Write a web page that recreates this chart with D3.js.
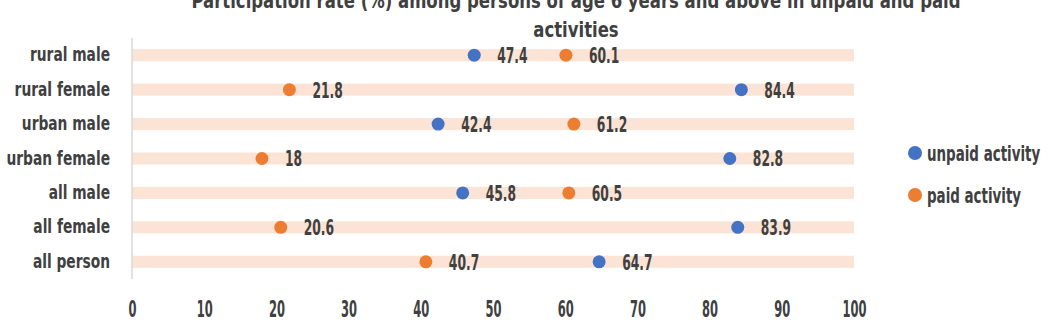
<!DOCTYPE html>
<html><head><meta charset="utf-8">
<script src="https://cdn.jsdelivr.net/npm/d3@7"></script>
<style>
body{margin:0;background:#fff;}
svg text{font-family:"DejaVu Sans",sans-serif;font-weight:bold;fill:#404040;}
</style></head>
<body><svg id="c" width="1050" height="326"></svg>
<script>
const categories = ["rural male","rural female","urban male","urban female","all male","all female","all person"];
const unpaid = [47.4, 84.4, 42.4, 82.8, 45.8, 83.9, 64.7];
const paid = [60.1, 21.8, 61.2, 18, 60.5, 20.6, 40.7];
const seriesNames = ["unpaid activity","paid activity"];
const seriesColors = ["#4472C4","#ED7D31"];
const xTicks = [0,10,20,30,40,50,60,70,80,90,100];
const titleLines = ["Participation rate (%) among persons of age 6 years and above in unpaid and paid","activities"];

// horizontally condense text (no condensed font available offline)
function squeeze(sel, sx){
  sel.each(function(){
    const t = d3.select(this);
    const x0 = +t.attr("x") || 0;
    t.attr("x", x0/sx).attr("transform", `scale(${sx},1)`);
  });
}

const svg = d3.select("#c");
const x = d3.scaleLinear().domain([0,100]).range([132,854]);
const y = d3.scaleBand().domain(categories).range([38,279]).paddingInner(0).paddingOuter(0);
const cy = c => y(c) + y.bandwidth()/2;

// title
svg.selectAll("text.title").data(titleLines).join("text")
  .attr("class","title")
  .attr("x",576).attr("y",(d,i)=>8+i*29)
  .attr("text-anchor","middle").attr("font-size",22)
  .text(d=>d)
  .call(squeeze,0.75);

// bands
svg.selectAll("rect.band").data(categories).join("rect")
  .attr("class","band")
  .attr("x",x(0)).attr("width",x(100)-x(0))
  .attr("y",d=>cy(d)-6).attr("height",12)
  .attr("fill","#FBE4D6");

// left axis line
svg.append("line").attr("x1",x(0)).attr("x2",x(0)).attr("y1",38).attr("y2",279)
  .attr("stroke","#D9D9D9").attr("stroke-width",1.5);

// category labels
const yAxis = svg.append("g").attr("transform",`translate(${x(0)},0)`)
  .call(d3.axisLeft(y).tickSize(0).tickPadding(22));
yAxis.select(".domain").remove();
yAxis.attr("font-family",null).attr("font-size",null);
yAxis.selectAll("text").attr("font-size",20).attr("fill","#404040").attr("dy","0.3em")
  .call(squeeze,0.69);

// x axis
const xAxis = svg.append("g").attr("transform","translate(0,300)")
  .call(d3.axisBottom(x).tickValues(xTicks).tickSize(0).tickPadding(0).tickFormat(d3.format("d")));
xAxis.select(".domain").remove();
xAxis.attr("font-family",null).attr("font-size",null);
xAxis.selectAll("text").attr("font-size",23).attr("fill","#404040").attr("dy","0.72em")
  .call(squeeze,0.5);

// points + value labels
const series = [unpaid, paid];
series.forEach((vals,si)=>{
  const g = svg.append("g");
  g.selectAll("circle").data(vals).join("circle")
    .attr("cx",d=>x(d)).attr("cy",(d,i)=>cy(categories[i]))
    .attr("r",6.5).attr("fill",seriesColors[si]);
  g.selectAll("text").data(vals).join("text")
    .attr("x",d=>x(d)+23).attr("y",(d,i)=>cy(categories[i]))
    .attr("dy","0.36em").attr("font-size",22)
    .text(d=>d)
    .call(squeeze,0.56);
});

// legend
const lg = svg.append("g");
seriesNames.forEach((n,i)=>{
  const ly = 153 + i*42;
  lg.append("circle").attr("cx",915).attr("cy",ly).attr("r",7).attr("fill",seriesColors[i]);
  lg.append("text").attr("x",927).attr("y",ly).attr("dy","0.36em").attr("font-size",21).text(n)
    .call(squeeze,0.64);
});
</script></body></html>
